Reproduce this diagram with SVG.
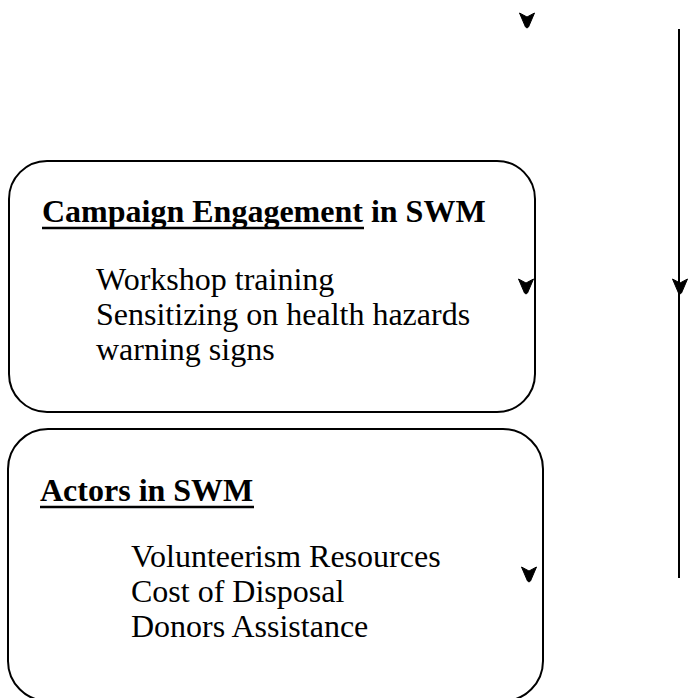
<svg xmlns="http://www.w3.org/2000/svg" xmlns:xlink="http://www.w3.org/1999/xlink" width="697" height="698" viewBox="0 0 697 698">
<style>
.box{fill:#fff;stroke:#000;stroke-width:2}
.t{font-family:"Liberation Serif","Times New Roman",serif;font-size:32px;fill:#000}
.b{font-weight:bold}
.ul{stroke:#000;stroke-width:2.5}
.conn{stroke:#000;stroke-width:2;fill:none}
</style>
<defs>
<path id="ah" d="M-7.5,-15 L-1.5,-1 L0,0 L1.5,-1 L7.5,-15 L0,-11 Z" fill="#000" stroke="#000" stroke-width="1" stroke-linejoin="round"/>
</defs>
<rect width="697" height="698" fill="#fff"/>
<g id="campaign">
<rect class="box" x="9" y="161" width="526" height="251" rx="38" ry="38"/>
<text class="t b" x="42" y="222">Campaign Engagement in SWM</text>
<line class="ul" x1="42" y1="228" x2="364" y2="228"/>
<text class="t" x="96" y="290">Workshop training</text>
<text class="t" x="96" y="325">Sensitizing on health hazards</text>
<text class="t" x="96" y="360">warning signs</text>
</g>
<g id="actors">
<rect class="box" x="8" y="429" width="535" height="272" rx="40" ry="40"/>
<text class="t b" x="40" y="501">Actors in SWM</text>
<line class="ul" x1="40" y1="507" x2="254" y2="507"/>
<text class="t" x="131" y="567">Volunteerism Resources</text>
<text class="t" x="131" y="602">Cost of Disposal</text>
<text class="t" x="131" y="637">Donors Assistance</text>
</g>
<g id="connectors">
<line class="conn" x1="679" y1="29" x2="679" y2="578"/>
<use xlink:href="#ah" x="527" y="28"/>
<use xlink:href="#ah" x="526" y="294"/>
<use xlink:href="#ah" x="680" y="294"/>
<use xlink:href="#ah" x="529" y="582"/>
</g>
</svg>
